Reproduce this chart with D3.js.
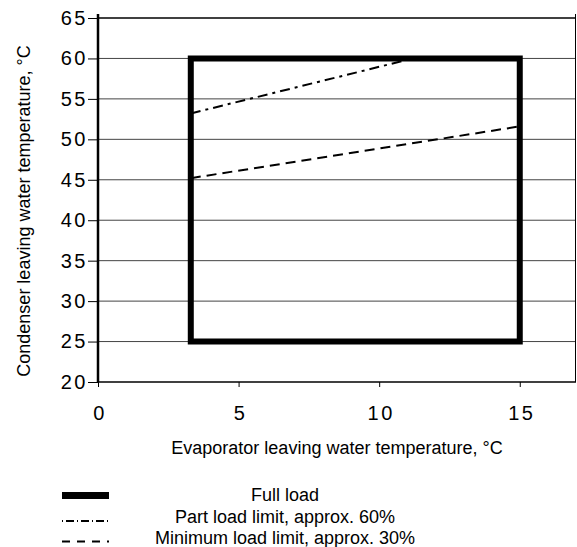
<!DOCTYPE html>
<html>
<head>
<meta charset="utf-8">
<script src="https://cdn.jsdelivr.net/npm/d3@7"></script>
<style>
html,body{margin:0;padding:0;background:#fff;}
svg{display:block;}
text{font-family:Arial,"Liberation Sans",sans-serif;fill:#000;}
</style>
</head>
<body>
<svg id="chart" width="577" height="547"></svg>
<script>
// Data
const xTicks = [0, 5, 10, 15];
const yTicks = [20, 25, 30, 35, 40, 45, 50, 55, 60, 65];
const fullLoadX = [3.3, 15, 15, 3.3, 3.3];
const fullLoadY = [25, 25, 60, 60, 25];
const partLoadX = [3.3, 11.2];
const partLoadY = [53.2, 60];
const minLoadX = [3.3, 15];
const minLoadY = [45.2, 51.6];
const legendLabels = ["Full load", "Part load limit, approx. 60%", "Minimum load limit, approx. 30%"];
const xTitle = "Evaporator leaving water temperature, °C";
const yTitle = "Condenser leaving water temperature, °C";

const svg = d3.select("#chart");
const x = d3.scaleLinear().domain([0, 17]).range([98, 576]);
const y = d3.scaleLinear().domain([20, 65]).range([382, 18]);

// gridlines
svg.append("g").selectAll("line").data(yTicks.filter(d => d > 20 && d < 65)).join("line")
  .attr("x1", x(0)).attr("x2", x(17))
  .attr("y1", d => y(d)).attr("y2", d => y(d))
  .attr("stroke", "#444").attr("stroke-width", 1);
// top & right border
svg.append("line").attr("x1", x(0)).attr("x2", x(17)).attr("y1", y(65)).attr("y2", y(65))
  .attr("stroke", "#000").attr("stroke-width", 1.5);
svg.append("line").attr("x1", x(17) - 0.5).attr("x2", x(17) - 0.5).attr("y1", y(65) - 4).attr("y2", y(20))
  .attr("stroke", "#000").attr("stroke-width", 1);

// axes
const yAxis = d3.axisLeft(y).tickValues(yTicks).tickSize(10).tickPadding(0).tickFormat(d3.format("d"));
const gy = svg.append("g").attr("transform", `translate(${x(0)},0)`).call(yAxis);
gy.select(".domain").attr("stroke-width", 2.5).attr("d", `M0,${y(20)}V${y(65) - 4}`);
gy.selectAll(".tick line").attr("stroke-width", 1);
gy.selectAll(".tick text").style("font-size", "20px").style("letter-spacing", "2.5px")
  .attr("font-family", "Arial, Liberation Sans, sans-serif").attr("fill", "#000");

const xAxis = d3.axisBottom(x).tickValues(xTicks).tickSize(5).tickPadding(19).tickFormat(d3.format("d"));
const gx = svg.append("g").attr("transform", `translate(0,${y(20)})`).call(xAxis);
gx.select(".domain").attr("stroke-width", 1.5).attr("d", `M${x(0)},0H${x(17)}`);
gx.selectAll(".tick text").style("font-size", "20px").style("letter-spacing", "2.5px")
  .attr("dx", "1.5px")
  .attr("font-family", "Arial, Liberation Sans, sans-serif").attr("fill", "#000");

// series
const line = d3.line().x(d => x(d[0])).y(d => y(d[1]));
svg.append("path").datum(d3.zip(fullLoadX, fullLoadY)).attr("d", line)
  .attr("fill", "none").attr("stroke", "#000").attr("stroke-width", 6).attr("stroke-linejoin", "miter").attr("stroke-linecap", "square");
svg.append("path").datum(d3.zip(partLoadX, partLoadY)).attr("d", line)
  .attr("fill", "none").attr("stroke", "#000").attr("stroke-width", 2).attr("stroke-dasharray", "10,5,3,5");
svg.append("path").datum(d3.zip(minLoadX, minLoadY)).attr("d", line)
  .attr("fill", "none").attr("stroke", "#000").attr("stroke-width", 2).attr("stroke-dasharray", "10,6");

// titles
svg.append("text").attr("x", 337).attr("y", 454).attr("text-anchor", "middle")
  .style("font-size", "18px").text(xTitle);
svg.append("text").attr("transform", `translate(30,211) rotate(-90)`).attr("text-anchor", "middle")
  .style("font-size", "18px").text(yTitle);

// legend
const legLineY = [495.5, 521, 541.5];
const legTextY = [501, 523, 544];
const styles = [{w: 7, d: null}, {w: 2, d: "1,3,8,3"}, {w: 2, d: "8,7"}];
legendLabels.forEach((lab, i) => {
  svg.append("line").attr("x1", 62).attr("x2", 109).attr("y1", legLineY[i]).attr("y2", legLineY[i])
    .attr("stroke", "#000").attr("stroke-width", styles[i].w).attr("stroke-dasharray", styles[i].d);
  svg.append("text").attr("x", 285).attr("y", legTextY[i]).attr("text-anchor", "middle")
    .style("font-size", "18px").text(lab);
});
</script>
</body>
</html>
